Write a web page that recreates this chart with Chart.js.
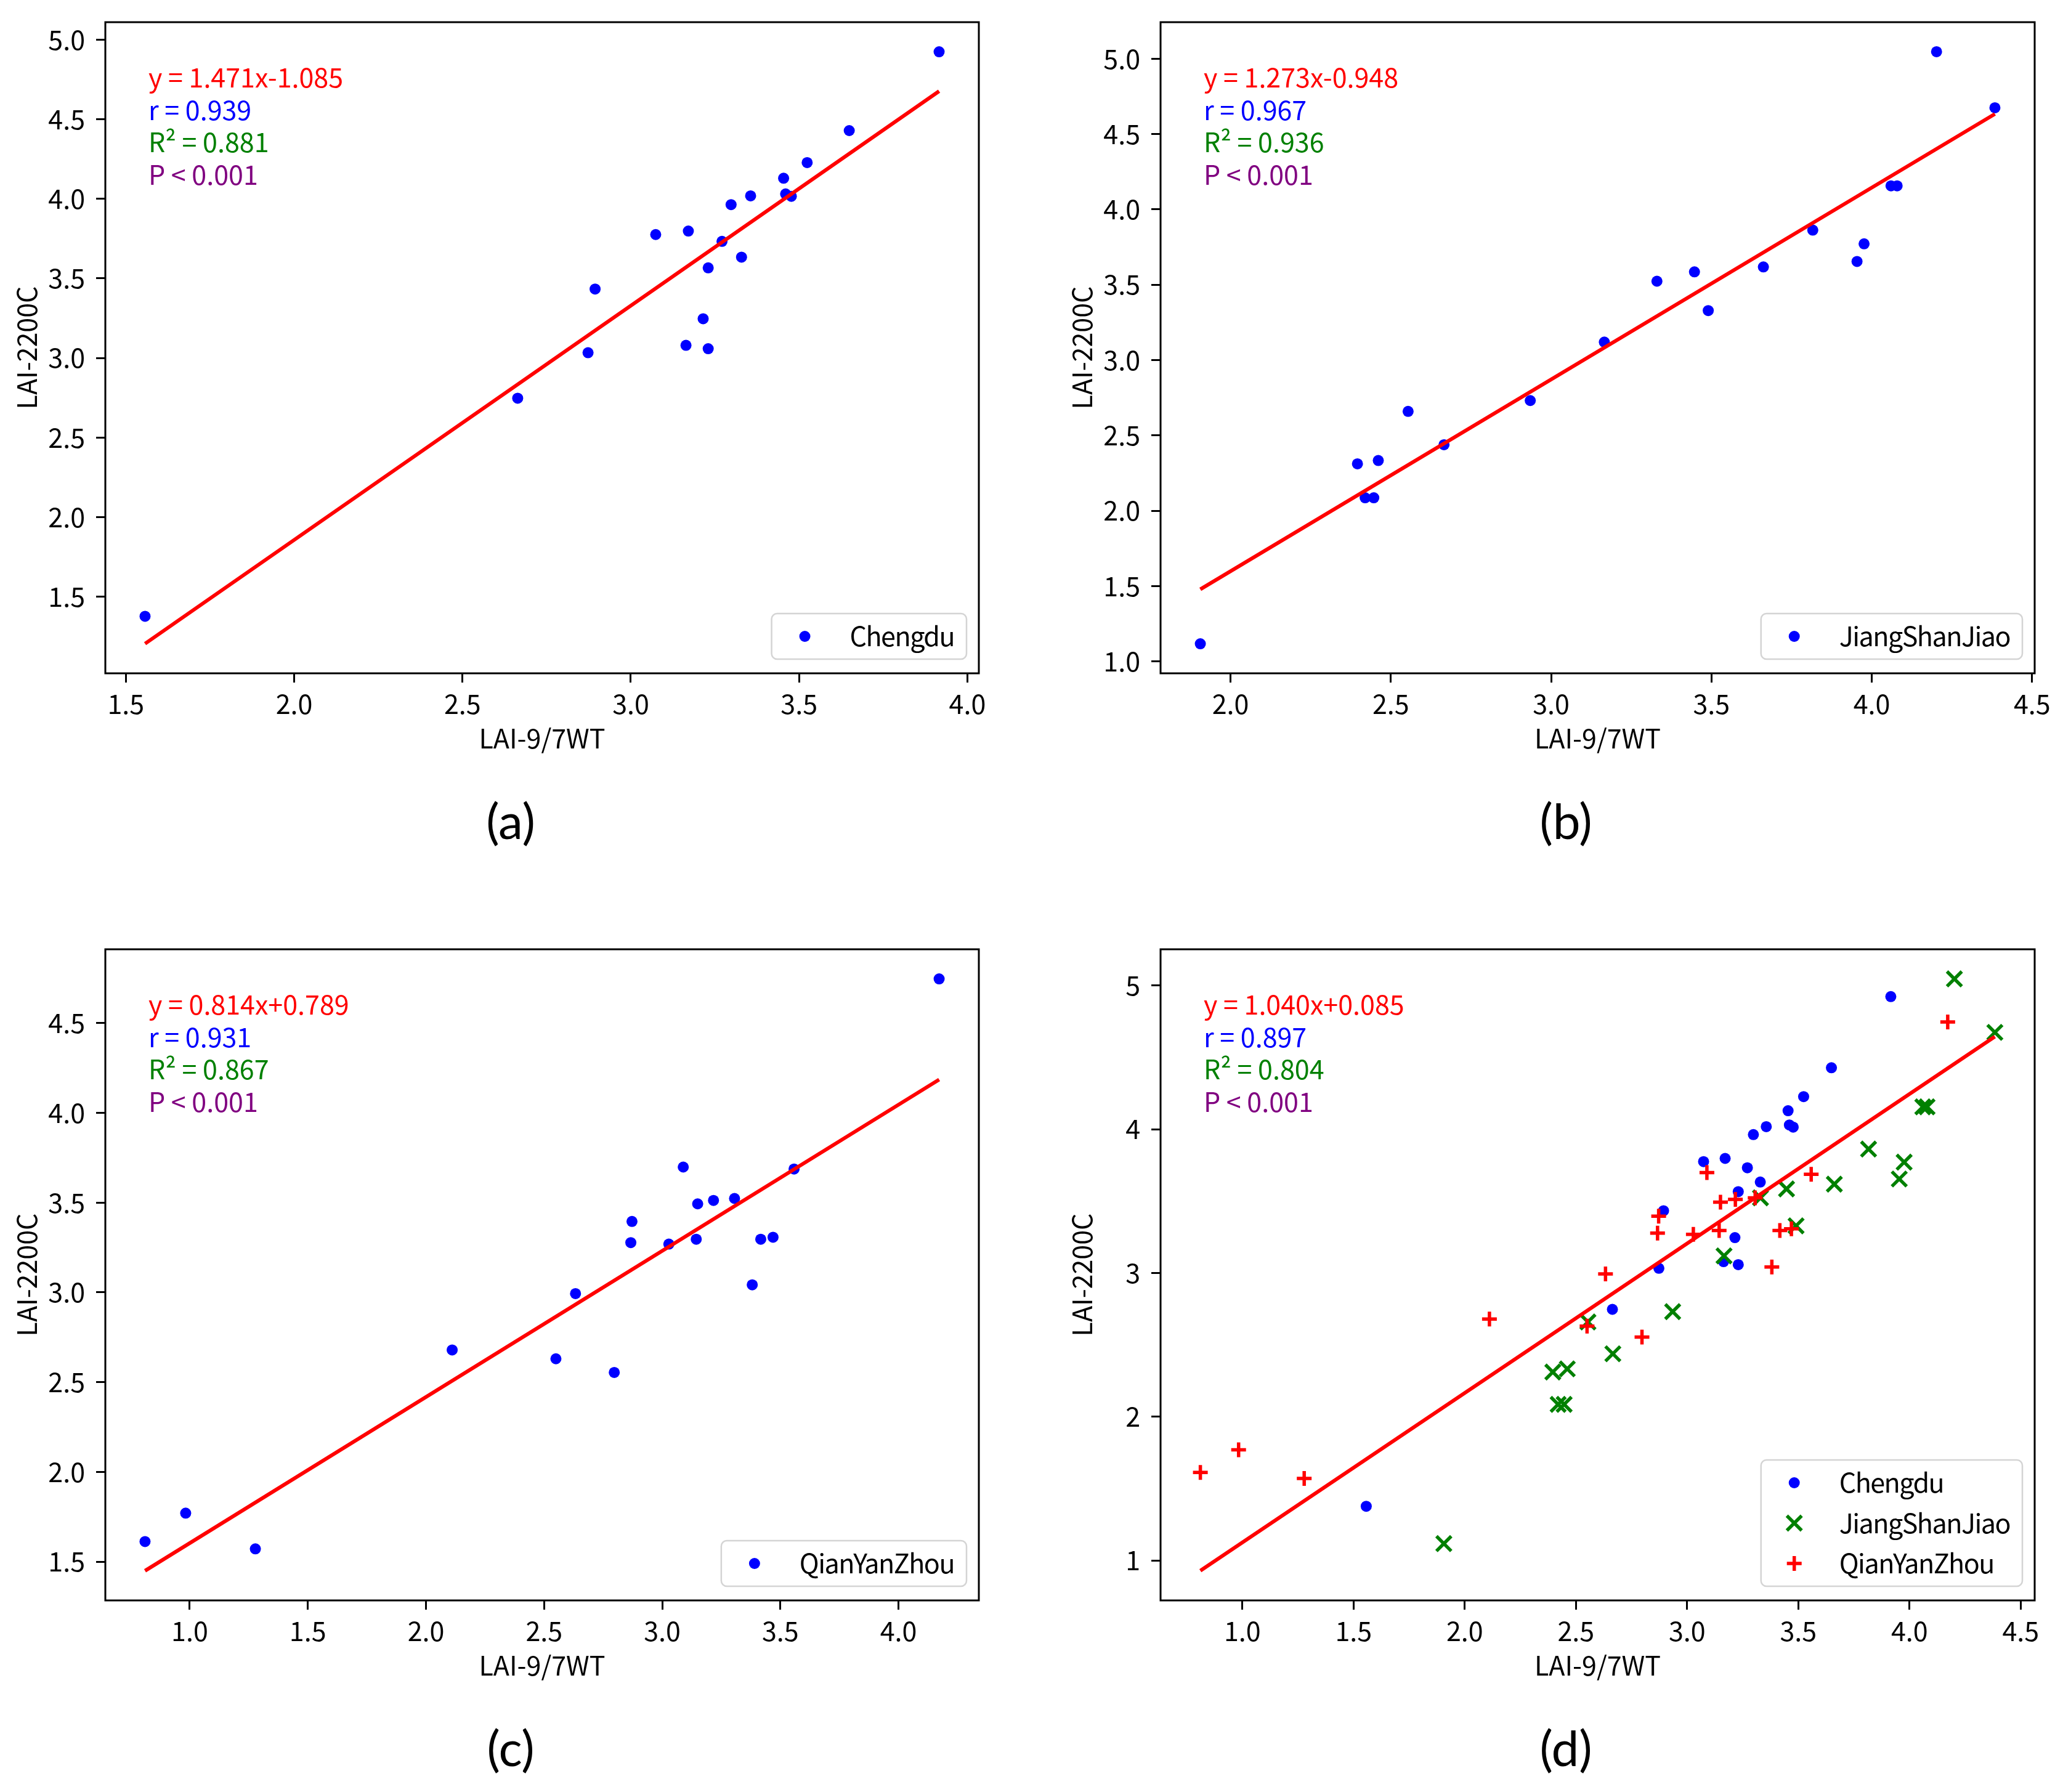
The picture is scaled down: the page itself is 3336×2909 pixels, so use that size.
<!DOCTYPE html>
<html>
<head>
<meta charset="utf-8">
<script src="https://cdn.jsdelivr.net/npm/chart.js@4.4.1/dist/chart.umd.min.js"></script>
<style>
html, body { margin: 0; padding: 0; background: #fff; }
#wrap { position: relative; width: 3336px; height: 2909px; background: #fff; }
canvas { position: absolute; }
</style>
</head>
<body>
<div id="wrap">
  <canvas id="pa" width="1668" height="1454" style="left:0px;top:0px"></canvas>
  <canvas id="pb" width="1668" height="1454" style="left:1668px;top:0px"></canvas>
  <canvas id="pc" width="1668" height="1454" style="left:0px;top:1454px"></canvas>
  <canvas id="pd" width="1668" height="1454" style="left:1668px;top:1454px"></canvas>
</div>
<script>
'use strict';

// site data (LAI-9/7WT vs LAI-2200C)
const cdX = [1.557, 2.664, 2.873, 2.894, 3.074, 3.171, 3.164, 3.230, 3.215, 3.230,
             3.271, 3.329, 3.298, 3.356, 3.454, 3.460, 3.477, 3.524, 3.649, 3.916];
const cdY = [1.377, 2.747, 3.033, 3.433, 3.775, 3.797, 3.079, 3.058, 3.246, 3.566,
             3.732, 3.633, 3.963, 4.018, 4.129, 4.030, 4.015, 4.227, 4.428, 4.923];

const jsX = [1.906, 2.396, 2.420, 2.447, 2.461, 2.554, 2.666, 2.935, 3.166, 3.330,
             3.447, 3.490, 3.662, 3.816, 3.954, 3.976, 4.060, 4.079, 4.202, 4.384];
const jsY = [1.117, 2.311, 2.086, 2.086, 2.333, 2.659, 2.438, 2.731, 3.119, 3.523,
             3.585, 3.328, 3.618, 3.862, 3.654, 3.771, 4.156, 4.156, 5.046, 4.674];

const qyX = [0.811, 0.983, 1.278, 2.111, 2.550, 2.633, 2.797, 2.867, 2.872, 3.028,
             3.089, 3.144, 3.150, 3.217, 3.306, 3.381, 3.417, 3.469, 3.558, 4.172];
const qyY = [1.612, 1.770, 1.571, 2.679, 2.630, 2.993, 2.554, 3.277, 3.395, 3.269,
             3.698, 3.296, 3.493, 3.512, 3.523, 3.042, 3.296, 3.307, 3.687, 4.746];

// regression stats per panel (a, b, c, d)
const panelLetters = ['(a)', '(b)', '(c)', '(d)'];
const fitSlope = [1.471, 1.273, 0.814, 1.040];
const fitIntercept = [-1.085, -0.948, 0.789, 0.085];
const rValues = [0.939, 0.967, 0.931, 0.897];
const r2Values = [0.881, 0.936, 0.867, 0.804];
const pText = 'P < 0.001';

// tick labels
const xTicksA = [1.5, 2.0, 2.5, 3.0, 3.5, 4.0];
const yTicksA = [1.5, 2.0, 2.5, 3.0, 3.5, 4.0, 4.5, 5.0];
const xTicksB = [2.0, 2.5, 3.0, 3.5, 4.0, 4.5];
const yTicksB = [1.0, 1.5, 2.0, 2.5, 3.0, 3.5, 4.0, 4.5, 5.0];
const xTicksC = [1.0, 1.5, 2.0, 2.5, 3.0, 3.5, 4.0];
const yTicksC = [1.5, 2.0, 2.5, 3.0, 3.5, 4.0, 4.5];
const xTicksD = [1.0, 1.5, 2.0, 2.5, 3.0, 3.5, 4.0, 4.5];
const yTicksD = [1, 2, 3, 4, 5];

const xRanges = [[1.439, 4.034], [1.782, 4.508], [0.643, 4.340], [0.632, 4.563]];
const yRanges = [[1.019, 5.109], [0.921, 5.242], [1.284, 4.911], [0.722, 5.252]];

const xTitle = 'LAI-9/7WT';
const yTitle = 'LAI-2200C';

const FONT = "'Noto Sans CJK SC', 'Noto Sans', sans-serif";
const FS = 43;

// marker looks: single-site panels use plain blue dots, the combined panel gets per-site markers
const dotStyle = { color: '#0000ff', style: 'circle', radius: 9, bw: 0 };
const siteStyle = {
    Chengdu: { x: cdX, y: cdY, color: '#0000ff', style: 'circle', radius: 9, bw: 0 },
    JiangShanJiao: { x: jsX, y: jsY, color: '#008000', style: 'crossRot', radius: 17, bw: 5.5 },
    QianYanZhou: { x: qyX, y: qyY, color: '#ff0000', style: 'cross', radius: 12, bw: 5.5 }
};

// per panel: canvas, which sites, plot-area box inside the canvas
const panels = [
    { id: 'pa', sites: ['Chengdu'], own: false, xt: xTicksA, yt: yTicksA, yDec: 1, area: { left: 171, right: 1589, top: 36, bottom: 1093 } },
    { id: 'pb', sites: ['JiangShanJiao'], own: false, xt: xTicksB, yt: yTicksB, yDec: 1, area: { left: 216, right: 1635, top: 36, bottom: 1093 } },
    { id: 'pc', sites: ['QianYanZhou'], own: false, xt: xTicksC, yt: yTicksC, yDec: 1, area: { left: 171, right: 1589, top: 87, bottom: 1144 } },
    { id: 'pd', sites: ['Chengdu', 'JiangShanJiao', 'QianYanZhou'], own: true, xt: xTicksD, yt: yTicksD, yDec: 0, area: { left: 216, right: 1635, top: 87, bottom: 1144 } }
];

function drawMarker(ctx, style, r, bw, x, y) {
    ctx.beginPath();
    if (style === 'circle') {
        ctx.arc(x, y, r, 0, Math.PI * 2);
        ctx.fill();
        return;
    }
    let d = style === 'crossRot' ? r * Math.SQRT1_2 : r;
    ctx.lineWidth = bw;
    if (style === 'crossRot') {
        ctx.moveTo(x - d, y - d); ctx.lineTo(x + d, y + d);
        ctx.moveTo(x + d, y - d); ctx.lineTo(x - d, y + d);
    } else {
        ctx.moveTo(x - d, y); ctx.lineTo(x + d, y);
        ctx.moveTo(x, y - d); ctx.lineTo(x, y + d);
    }
    ctx.stroke();
}

const decorPlugin = {
    id: 'decor',
    afterDatasetsDraw(chart, args, opts) {
        const ctx = chart.ctx;
        const a = chart.chartArea;
        ctx.save();

        // frame (all four spines)
        ctx.strokeStyle = '#000';
        ctx.lineWidth = 3;
        ctx.strokeRect(a.left, a.top, a.right - a.left, a.bottom - a.top);

        // stats text block
        ctx.font = FS + 'px ' + FONT;
        ctx.textAlign = 'left';
        ctx.textBaseline = 'middle';
        opts.stats.forEach((t, i) => {
            ctx.fillStyle = t.color;
            ctx.fillText(t.text, a.left + 70, a.top + 90 + i * 52.5);
        });

        // legend box (text a touch tighter, the original face is narrower)
        ctx.letterSpacing = '-1.5px';
        const items = opts.legend;
        let tw = 0;
        items.forEach(it => { tw = Math.max(tw, ctx.measureText(it.label).width); });
        const w = 127 + tw + 20;
        const h = 8.5 + items.length * 65.5;
        const x0 = a.right - 20 - w;
        const y0 = a.bottom - 23 - h;
        ctx.beginPath();
        ctx.roundRect(x0, y0, w, h, 9);
        ctx.fillStyle = 'rgba(255,255,255,0.8)';
        ctx.fill();
        ctx.strokeStyle = '#d4d4d4';
        ctx.lineWidth = 2.5;
        ctx.stroke();
        items.forEach((it, i) => {
            const cy = y0 + 37 + i * 65.5;
            ctx.fillStyle = it.color;
            ctx.strokeStyle = it.color;
            drawMarker(ctx, it.style, it.radius, it.bw, x0 + 54, cy);
            ctx.fillStyle = '#000';
            ctx.fillText(it.label, x0 + 127, cy);
        });
        ctx.letterSpacing = '0px';

        // panel letter under the plot
        ctx.font = "80px Lato, 'Open Sans', sans-serif";
        ctx.textAlign = 'center';
        ctx.fillStyle = '#000';
        ctx.fillText(opts.letter, a.left + 658, a.bottom + 243);

        ctx.restore();
    }
};

function fmtEq(s, b) {
    return 'y = ' + s.toFixed(3) + 'x' + (b < 0 ? '-' : '+') + Math.abs(b).toFixed(3);
}

function renderPanel(p, idx) {
    const area = p.area;
    const W = 1668, H = 1454;
    const xAxisH = 157;

    const datasets = [];
    let allX = [];
    p.sites.forEach(name => { allX = allX.concat(siteStyle[name].x); });
    const x1 = Math.min(...allX), x2 = Math.max(...allX);
    const s = fitSlope[idx], b = fitIntercept[idx];

    // regression line on top
    datasets.push({
        label: '',
        data: [{ x: x1, y: s * x1 + b }, { x: x2, y: s * x2 + b }],
        showLine: true,
        borderColor: '#ff0000',
        borderWidth: 6,
        pointRadius: 0,
        order: 0
    });

    const legendItems = [];
    p.sites.forEach((name, k) => {
        const src = siteStyle[name];
        const st = p.own ? src : dotStyle;
        datasets.push({
            label: name,
            data: src.x.map((v, i) => ({ x: v, y: src.y[i] })),
            pointStyle: st.style,
            pointRadius: st.radius,
            pointHoverRadius: st.radius,
            pointBackgroundColor: st.color,
            pointBorderColor: st.color,
            pointBorderWidth: st.bw,
            showLine: false,
            order: 3 - k
        });
        legendItems.push({ label: name, color: st.color, style: st.style, radius: st.radius, bw: st.bw });
    });

    const stats = [
        { text: fmtEq(s, b), color: '#ff0000' },
        { text: 'r = ' + rValues[idx].toFixed(3), color: '#0000ff' },
        { text: 'R\u00B2 = ' + r2Values[idx].toFixed(3), color: '#008000' },
        { text: pText, color: '#800080' }
    ];

    const tickFont = { family: FONT, size: FS };

    const config = {
        type: 'scatter',
        data: { datasets: datasets },
        options: {
            responsive: false,
            animation: false,
            devicePixelRatio: 1,
            events: [],
            layout: {
                padding: { left: 0, top: area.top, right: W - area.right, bottom: H - area.bottom - xAxisH }
            },
            plugins: {
                legend: { display: false },
                tooltip: { enabled: false },
                decor: { stats: stats, legend: legendItems, letter: panelLetters[idx] }
            },
            scales: {
                x: {
                    type: 'linear',
                    min: xRanges[idx][0],
                    max: xRanges[idx][1],
                    afterBuildTicks: axis => { axis.ticks = p.xt.map(v => ({ value: v })); },
                    afterFit: axis => {
                        axis.height = xAxisH;
                        axis.paddingLeft = 0; axis.paddingRight = 0;
                        axis.paddingTop = 0; axis.paddingBottom = 0;
                    },
                    ticks: {
                        color: '#000',
                        font: tickFont,
                        padding: 9,
                        maxRotation: 0,
                        autoSkip: false,
                        callback: v => v.toFixed(1)
                    },
                    grid: { drawOnChartArea: false, drawTicks: true, tickLength: 15, color: '#000', lineWidth: 3 },
                    border: { display: false },
                    title: {
                        display: true,
                        text: xTitle,
                        color: '#000',
                        font: { family: FONT, size: FS },
                        padding: { top: 0, bottom: 25.6 }
                    }
                },
                y: {
                    type: 'linear',
                    min: yRanges[idx][0],
                    max: yRanges[idx][1],
                    afterBuildTicks: axis => { axis.ticks = p.yt.map(v => ({ value: v })); },
                    afterFit: axis => {
                        axis.width = area.left;
                        axis.paddingLeft = 0; axis.paddingRight = 0;
                        axis.paddingTop = 0; axis.paddingBottom = 0;
                    },
                    ticks: {
                        color: '#000',
                        font: tickFont,
                        padding: 18,
                        autoSkip: false,
                        callback: v => v.toFixed(p.yDec)
                    },
                    grid: { drawOnChartArea: false, drawTicks: true, tickLength: 15, color: '#000', lineWidth: 3 },
                    border: { display: false },
                    title: {
                        display: true,
                        text: yTitle,
                        color: '#000',
                        font: { family: FONT, size: FS },
                        padding: { top: area.left - 127 - 26.4, bottom: 0 }
                    }
                }
            }
        },
        plugins: [decorPlugin]
    };

    let canvasElem = document.getElementById(p.id);
    if (canvasElem) {
        new Chart(canvasElem, config);
    }
}

document.addEventListener('DOMContentLoaded', () => {
    panels.forEach(renderPanel);
});
</script>
</body>
</html>
